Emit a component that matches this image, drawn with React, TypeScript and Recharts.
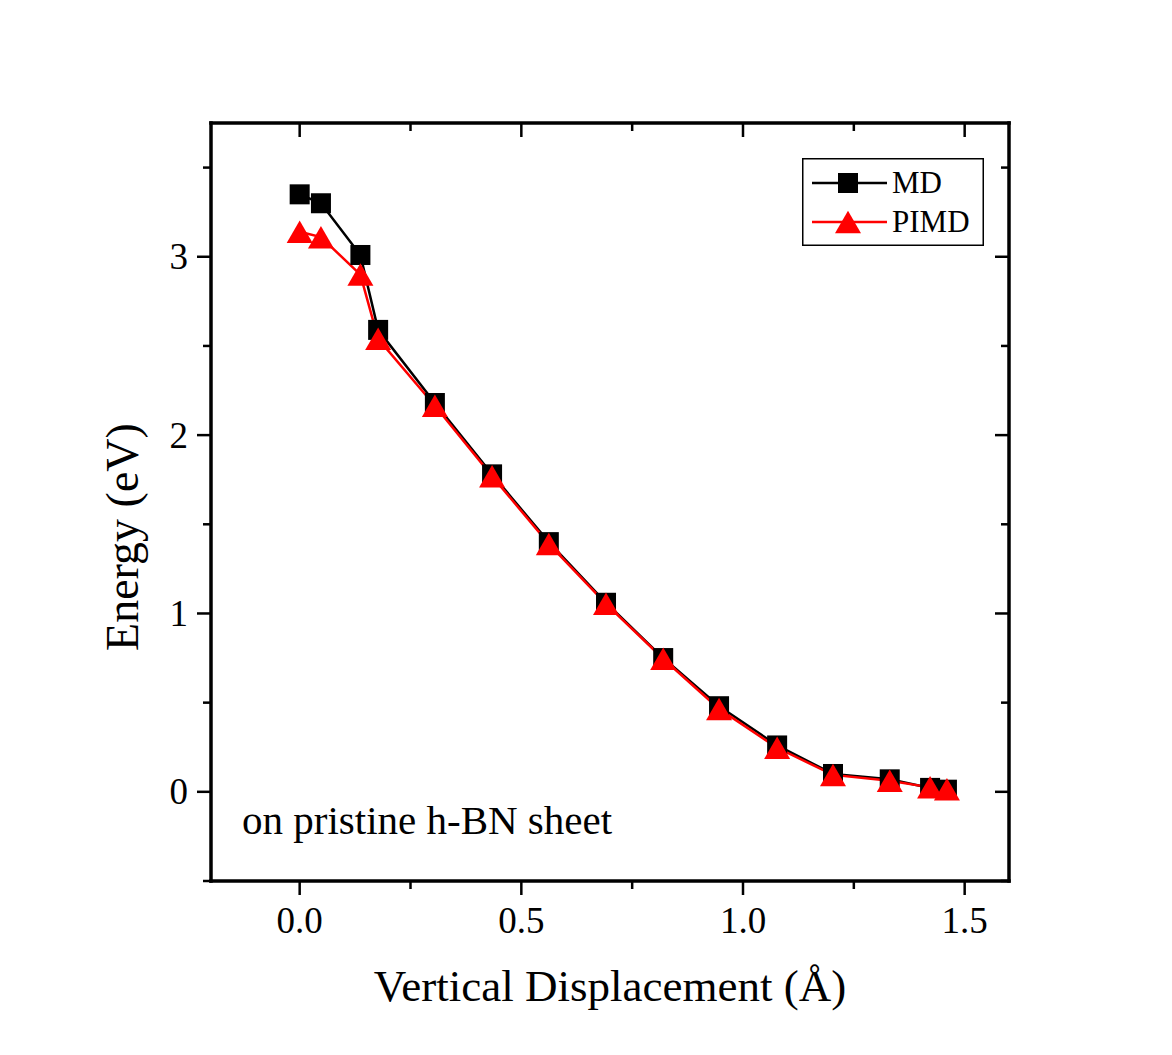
import { LineChart, Line, XAxis, YAxis, Legend } from "recharts";

// Energy profile vs. vertical displacement, MD vs PIMD
const DISPLACEMENT = [0.0, 0.048, 0.137, 0.177, 0.305, 0.434, 0.562, 0.691, 0.82, 0.946, 1.077, 1.203, 1.331, 1.422, 1.46];
const ENERGY_MD = [3.35, 3.3, 3.01, 2.59, 2.18, 1.78, 1.4, 1.06, 0.75, 0.48, 0.26, 0.1, 0.07, 0.022, 0.012];
const ENERGY_PIMD = [3.14, 3.11, 2.9, 2.54, 2.165, 1.77, 1.39, 1.054, 0.746, 0.465, 0.247, 0.095, 0.062, 0.025, 0.015];

const X_TICKS = [0, 0.25, 0.5, 0.75, 1, 1.25, 1.5];
const X_LABELED = [0, 0.5, 1, 1.5];
const Y_TICKS = [-0.5, 0, 0.5, 1, 1.5, 2, 2.5, 3, 3.5];
const Y_LABELED = [0, 1, 2, 3];

const FONT = "'Liberation Serif', 'Times New Roman', Times, serif";
const RED = "#ff0000";

const rows = DISPLACEMENT.map((x, i) => ({ x, md: ENERGY_MD[i], pimd: ENERGY_PIMD[i] }));

const MAJOR = 14;
const MINOR = 8;

function BottomTick({ x, y, payload }: any) {
  const v = payload.value as number;
  const major = X_LABELED.includes(v);
  return (
    <g>
      <line x1={x} x2={x} y1={y} y2={y + (major ? MAJOR : MINOR)} stroke="#000" strokeWidth={2.5} />
      {major && (
        <text x={x} y={y + 52} textAnchor="middle" fontFamily={FONT} fontSize={37} fill="#000">
          {v.toFixed(1)}
        </text>
      )}
    </g>
  );
}

function TopTick({ x, y, payload }: any) {
  const major = X_LABELED.includes(payload.value);
  return <line x1={x} x2={x} y1={y} y2={y + (major ? MAJOR : MINOR)} stroke="#000" strokeWidth={2.5} />;
}

function LeftTick({ x, y, payload }: any) {
  const v = payload.value as number;
  const major = Y_LABELED.includes(v);
  return (
    <g>
      <line x1={x} x2={x - (major ? MAJOR : MINOR)} y1={y} y2={y} stroke="#000" strokeWidth={2.5} />
      {major && (
        <text x={x - 23} y={y + 12.5} textAnchor="end" fontFamily={FONT} fontSize={37} fill="#000">
          {String(v)}
        </text>
      )}
    </g>
  );
}

function RightTick({ x, y, payload }: any) {
  const major = Y_LABELED.includes(payload.value);
  return <line x1={x} x2={x - (major ? MAJOR : MINOR)} y1={y} y2={y} stroke="#000" strokeWidth={2.5} />;
}

function square(cx: number, cy: number, key: string) {
  return <rect key={key} x={cx - 10} y={cy - 10} width={20} height={20} fill="#000" />;
}

function triangle(cx: number, cy: number, key: string) {
  const w = 26;
  const h = 22.5;
  return (
    <path
      key={key}
      d={`M${cx},${cy - h / 2} L${cx + w / 2},${cy + h / 2} L${cx - w / 2},${cy + h / 2} Z`}
      fill={RED}
    />
  );
}

function LegendBox({ payload }: any) {
  const items = payload ?? [];
  return (
    <svg width={182} height={88} style={{ display: "block" }}>
      <rect x={0.75} y={0.75} width={180.5} height={86.5} fill="#fff" stroke="#000" strokeWidth={1.5} />
      {items.map((entry: any, i: number) => {
        const cy = i === 0 ? 25 : 64;
        const isMd = entry.dataKey === "md";
        return (
          <g key={entry.dataKey}>
            <line x1={10} x2={85} y1={cy} y2={cy} stroke={entry.color} strokeWidth={2.5} />
            {isMd ? square(46, cy, "lm") : triangle(46, cy, "lt")}
            <text x={90} y={cy + 10} fontFamily={FONT} fontSize={31} fill="#000">
              {entry.value}
            </text>
          </g>
        );
      })}
    </svg>
  );
}

export default function App() {
  return (
    <div style={{ position: "absolute", left: 0, top: 0, width: 1172, height: 1055, background: "#fff" }}>
      <LineChart
        width={1172}
        height={1055}
        data={rows}
        margin={{ top: 123, right: 163, bottom: 74, left: 111 }}
      >
        <XAxis
          dataKey="x"
          type="number"
          domain={[-0.2, 1.6]}
          ticks={X_TICKS}
          interval={0}
          height={100}
          tickSize={0}
          tickMargin={0}
          tickLine={false}
          tick={<BottomTick />}
          axisLine={{ stroke: "#000", strokeWidth: 3.5, strokeLinecap: "square" }}
          allowDataOverflow
          label={{
            content: ({ viewBox }: any) => (
              <text
                x={viewBox.x + viewBox.width / 2}
                y={viewBox.y + 120}
                textAnchor="middle"
                fontFamily={FONT}
                fontSize={45}
                fill="#000"
              >
                Vertical Displacement (Å)
              </text>
            ),
          }}
        />
        <XAxis
          xAxisId="top"
          dataKey="x"
          type="number"
          orientation="top"
          mirror
          domain={[-0.2, 1.6]}
          ticks={X_TICKS}
          interval={0}
          height={40}
          tickSize={0}
          tickMargin={0}
          tickLine={false}
          tick={<TopTick />}
          axisLine={{ stroke: "#000", strokeWidth: 3.5, strokeLinecap: "square" }}
          allowDataOverflow
        />
        <YAxis
          type="number"
          domain={[-0.5, 3.75]}
          ticks={Y_TICKS}
          interval={0}
          width={100}
          tickSize={0}
          tickMargin={0}
          tickLine={false}
          tick={<LeftTick />}
          axisLine={{ stroke: "#000", strokeWidth: 3.5, strokeLinecap: "square" }}
          allowDataOverflow
          label={{
            content: () => (
              <text
                x={137.5}
                y={537}
                transform="rotate(-90 137.5 537)"
                textAnchor="middle"
                fontFamily={FONT}
                fontSize={46}
                fill="#000"
              >
                Energy (eV)
              </text>
            ),
          }}
        />
        <YAxis
          yAxisId="right"
          orientation="right"
          mirror
          type="number"
          domain={[-0.5, 3.75]}
          ticks={Y_TICKS}
          interval={0}
          width={40}
          tickSize={0}
          tickMargin={0}
          tickLine={false}
          tick={<RightTick />}
          axisLine={{ stroke: "#000", strokeWidth: 3.5, strokeLinecap: "square" }}
          allowDataOverflow
        />
        <Legend
          layout="horizontal"
          verticalAlign="middle"
          align="center"
          wrapperStyle={{ position: "absolute", left: 802, top: 158, width: 182, height: 88 }}
          content={(props: any) => <LegendBox payload={props.payload} />}
        />
        <Line
          dataKey="md"
          name="MD"
          stroke="#000"
          strokeWidth={2.5}
          isAnimationActive={false}
          dot={(p: any) => square(p.cx, p.cy, `md-${p.index}`)}
          activeDot={false}
        />
        <Line
          dataKey="pimd"
          name="PIMD"
          stroke={RED}
          strokeWidth={2.5}
          isAnimationActive={false}
          dot={(p: any) => triangle(p.cx, p.cy, `pimd-${p.index}`)}
          activeDot={false}
        />
      </LineChart>
      <div
        style={{
          position: "absolute",
          left: 242,
          top: 800,
          fontFamily: FONT,
          fontSize: 41,
          lineHeight: 1,
          whiteSpace: "nowrap",
          color: "#000",
        }}
      >
        on pristine h-BN sheet
      </div>
    </div>
  );
}
